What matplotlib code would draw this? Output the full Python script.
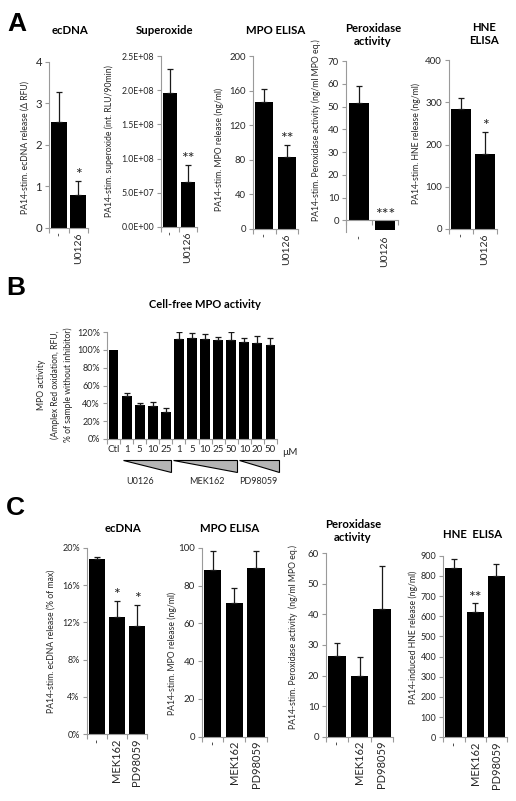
import matplotlib
matplotlib.use("Agg")
import numpy as np
import matplotlib.pyplot as plt
import matplotlib.transforms as mtransforms
from matplotlib.patches import Polygon
from matplotlib.ticker import FuncFormatter

plt.rcParams["font.family"] = ["Lato", "DejaVu Sans"]

# ── panel A data (PA14-stimulated, +/- U0126) ────────────────────────────────
a_groups = ["-", "U0126"]
a_ecdna = [2.54, 0.80]
a_ecdna_err = [0.74, 0.33]
a_superox = [1.96e8, 0.66e8]
a_superox_err = [0.35e8, 0.25e8]
a_mpo = [146.5, 83.5]
a_mpo_err = [15, 14]
a_perox = [51.6, -4.4]
a_perox_err = [7.4, 0]
a_hne = [283, 178]
a_hne_err = [28, 52]

# ── panel B data (cell-free MPO activity) ───────────────────────────────────
b_labels = ["Ctl", "1", "5", "10", "25", "1", "5", "10", "25", "50", "10", "20", "50"]
b_vals = [1.00, 0.48, 0.385, 0.365, 0.30, 1.12, 1.13, 1.12, 1.105, 1.115, 1.085, 1.075, 1.058]
b_err = [0, 0.035, 0.02, 0.05, 0.045, 0.085, 0.06, 0.06, 0.035, 0.085, 0.05, 0.085, 0.08]
b_inhibitors = ["U0126", "MEK162", "PD98059"]

# ── panel C data (+/- MEK162, PD98059) ──────────────────────────────────────
c_groups = ["-", "MEK162", "PD98059"]
c_ecdna = [0.188, 0.126, 0.116]
c_ecdna_err = [0.002, 0.017, 0.023]
c_mpo = [88.2, 70.5, 89.4]
c_mpo_err = [10, 8.3, 8.8]
c_perox = [26.4, 19.9, 41.8]
c_perox_err = [4.1, 6.1, 14.2]
c_hne = [837, 622, 799]
c_hne_err = [45, 42, 58]

AXIS_GREY = "#9a9a9a"
TEXT = "#262626"
W, H = 516, 801

fig = plt.figure(figsize=(W / 100, H / 100), dpi=100, facecolor="white")


def px_axes(x0, y0, x1, y1):
    # axes box given in pixel coords of the 516x801 picture (y down)
    return fig.add_axes([x0 / W, 1 - y1 / H, (x1 - x0) / W, (y1 - y0) / H])


def fig_text(x, y, s, **kw):
    return fig.text(x / W, 1 - y / H, s, **kw)


def excel_axes(ax, labels, ylim, yticks, fmt=None, ysize=7, xsize=7.5,
               rot=90, xpad=3, zero_spine=False):
    n = len(labels)
    if zero_spine:
        # x axis line at y=0, labels stay under the negative bar
        ax.spines["bottom"].set_position(("data", 0))
    ax.set_xlim(-0.5, n - 0.5)
    ax.set_ylim(*ylim)
    ax.set_yticks(yticks)
    if fmt is not None:
        ax.yaxis.set_major_formatter(FuncFormatter(fmt))
    ax.set_xticks(np.arange(n))
    ax.set_xticklabels(labels, rotation=rot, va="top", ha="center")
    ax.set_xticks(np.arange(n + 1) - 0.5, minor=True)
    for s in ("top", "right"):
        ax.spines[s].set_visible(False)
    for s in ("left", "bottom"):
        ax.spines[s].set_color(AXIS_GREY)
        ax.spines[s].set_linewidth(0.8)
    ax.tick_params(axis="y", direction="out", length=3, width=0.8,
                   color=AXIS_GREY, labelsize=ysize, labelcolor=TEXT, pad=2)
    ax.tick_params(axis="x", which="minor", direction="out", length=3.5,
                   width=0.8, color=AXIS_GREY)
    ax.tick_params(axis="x", which="major", length=0, labelsize=xsize,
                   labelcolor=TEXT, pad=xpad)
    ax.patch.set_alpha(0)


def draw_bars(ax, vals, errs, stars=None, width=0.8, star_size=11.5):
    x = np.arange(len(vals))
    vals = np.asarray(vals, dtype=float)
    errs = np.asarray(errs, dtype=float)
    ax.bar(x, vals, width=width, color="black", zorder=2)
    m = errs > 0
    ax.errorbar(x[m], vals[m], yerr=[np.zeros(m.sum()), errs[m]], fmt="none",
                ecolor="#1a1a1a", elinewidth=0.9, capsize=2.5, capthick=0.9,
                zorder=3)
    if stars:
        for i, s in enumerate(stars):
            if s:
                top = max(vals[i] + errs[i], 0)
                ax.annotate(s, (x[i], top), xytext=(0, -1),
                            textcoords="offset points", ha="center",
                            va="bottom", fontsize=star_size, color=TEXT)


def ylabel(x, y, s, size=6.2, **kw):
    fig_text(x, y, s, rotation=90, ha="center", va="center", fontsize=size,
             color=TEXT, **kw)


def title(x, y, s, size=8.2):
    fig_text(x, y, s, ha="center", va="center", fontsize=size,
             fontweight="bold", color="black", linespacing=1.15)


def letter(x, y, s):
    fig_text(x, y, s, ha="left", va="center", fontsize=19, fontweight="bold",
             family=["Liberation Sans", "DejaVu Sans"], color="black")


pct = lambda v, _: f"{v:.0%}"
sci = lambda v, _: f"{v:.1E}"

# ═════════════════════════════════ PANEL A ═════════════════════════════════
letter(7, 24, "A")

ax = px_axes(49, 61.7, 88, 228)
excel_axes(ax, a_groups, (0, 4), [0, 1, 2, 3, 4], ysize=8.2)
draw_bars(ax, a_ecdna, a_ecdna_err, ["", "*"])
title(70, 30, "ecDNA")
ylabel(25, 148, "PA14-stim. ecDNA release (\u0394 RFU)")

ax = px_axes(161, 56, 197, 227)
excel_axes(ax, a_groups, (0, 2.5e8), np.arange(6) * 0.5e8, fmt=sci, ysize=6.3)
draw_bars(ax, a_superox, a_superox_err, ["", "**"])
title(165, 30, "Superoxide")
ylabel(109.5, 141, "PA14-stim. superoxide (int. RLU/90min)")

ax = px_axes(253, 56, 298, 229)
excel_axes(ax, a_groups, (0, 200), [0, 40, 80, 120, 160, 200], ysize=6.8)
draw_bars(ax, a_mpo, a_mpo_err, ["", "**"])
title(276, 31, "MPO ELISA")
ylabel(219.5, 149, "PA14-stim. MPO release (ng/ml)")

ax = px_axes(346, 61, 398, 231.7)
excel_axes(ax, a_groups, (-5, 70), np.arange(0, 71, 10), ysize=7, xpad=11,
           zero_spine=True)
draw_bars(ax, a_perox, a_perox_err, ["", "***"])
title(373, 35, "Peroxidase\nactivity")
ylabel(316.5, 130, "PA14-stim. Peroxidase activity (ng/ml MPO eq.)")

ax = px_axes(449, 60, 497, 229)
excel_axes(ax, a_groups, (0, 400), [0, 100, 200, 300, 400], ysize=7)
draw_bars(ax, a_hne, a_hne_err, ["", "*"])
title(484, 34, "HNE\nELISA")
ylabel(416.5, 143, "PA14-stim. HNE release (ng/ml)")

# ═════════════════════════════════ PANEL B ═════════════════════════════════
letter(6, 288, "B")

ax = px_axes(107, 332, 277, 439)
excel_axes(ax, b_labels, (0, 1.2), np.arange(0, 1.21, 0.2), fmt=pct,
           ysize=6.5, xsize=7, rot=0, xpad=4)
draw_bars(ax, b_vals, b_err, width=0.75)
title(205, 304, "Cell-free MPO activity", size=8)
fig_text(55, 385, "MPO activity\n(Amplex Red oxidation, RFU,\n% of sample without inhibitor)",
         rotation=90, ha="center", va="center", fontsize=6.2, color=TEXT,
         multialignment="center", linespacing=1.5)

trans = mtransforms.blended_transform_factory(ax.transData, ax.transAxes)
ax.text(13.5, -0.13, "\u00b5M", transform=trans, ha="center", va="center",
        fontsize=7, color=TEXT)
# dose wedges under the concentration labels
wedges = [(0.72, 4.42), (4.52, 9.45), (9.6, 12.62)]
label_x = [2.02, 7.15, 11.1]
for (x0, x1), name, lx in zip(wedges, b_inhibitors, label_x):
    tri = Polygon([(x0, -0.196), (x1, -0.196), (x1, -0.311)], closed=True,
                  facecolor="#b5b5b5", edgecolor="black", linewidth=0.8,
                  transform=trans, clip_on=False)
    ax.add_patch(tri)
    ax.text(lx, -0.40, name, transform=trans, ha="center", va="center",
            fontsize=6.5, color=TEXT)

# ═════════════════════════════════ PANEL C ═════════════════════════════════
letter(6, 508, "C")

ax = px_axes(86.7, 547.7, 147, 734.3)
excel_axes(ax, c_groups, (0, 0.2), np.arange(0, 0.201, 0.04), fmt=pct,
           ysize=6.5, xsize=8)
draw_bars(ax, c_ecdna, c_ecdna_err, ["", "*", "*"])
title(123, 528, "ecDNA")
ylabel(51, 641, "PA14-stim. ecDNA release (% of max)")

ax = px_axes(201.7, 547.7, 267, 736.7)
excel_axes(ax, c_groups, (0, 100), np.arange(0, 101, 20), ysize=7, xsize=8)
draw_bars(ax, c_mpo, c_mpo_err)
title(230, 528, "MPO ELISA")
ylabel(172, 653, "PA14-stim. MPO release (ng/ml)")

ax = px_axes(326, 553.3, 393, 736.7)
excel_axes(ax, c_groups, (0, 60), np.arange(0, 61, 10), ysize=7, xsize=8)
draw_bars(ax, c_perox, c_perox_err)
title(353, 531, "Peroxidase\nactivity")
ylabel(293, 637, "PA14-stim. Peroxidase activity  (ng/ml MPO eq.)")

ax = px_axes(443.3, 555.7, 507, 737.3)
excel_axes(ax, c_groups, (0, 900), np.arange(0, 901, 100), ysize=6.5, xsize=8)
draw_bars(ax, c_hne, c_hne_err, ["", "**", ""])
title(473, 534, "HNE  ELISA")
ylabel(413, 637, "PA14-induced HNE release (ng/ml)")

fig.savefig("out.png", dpi=100, facecolor="white")
